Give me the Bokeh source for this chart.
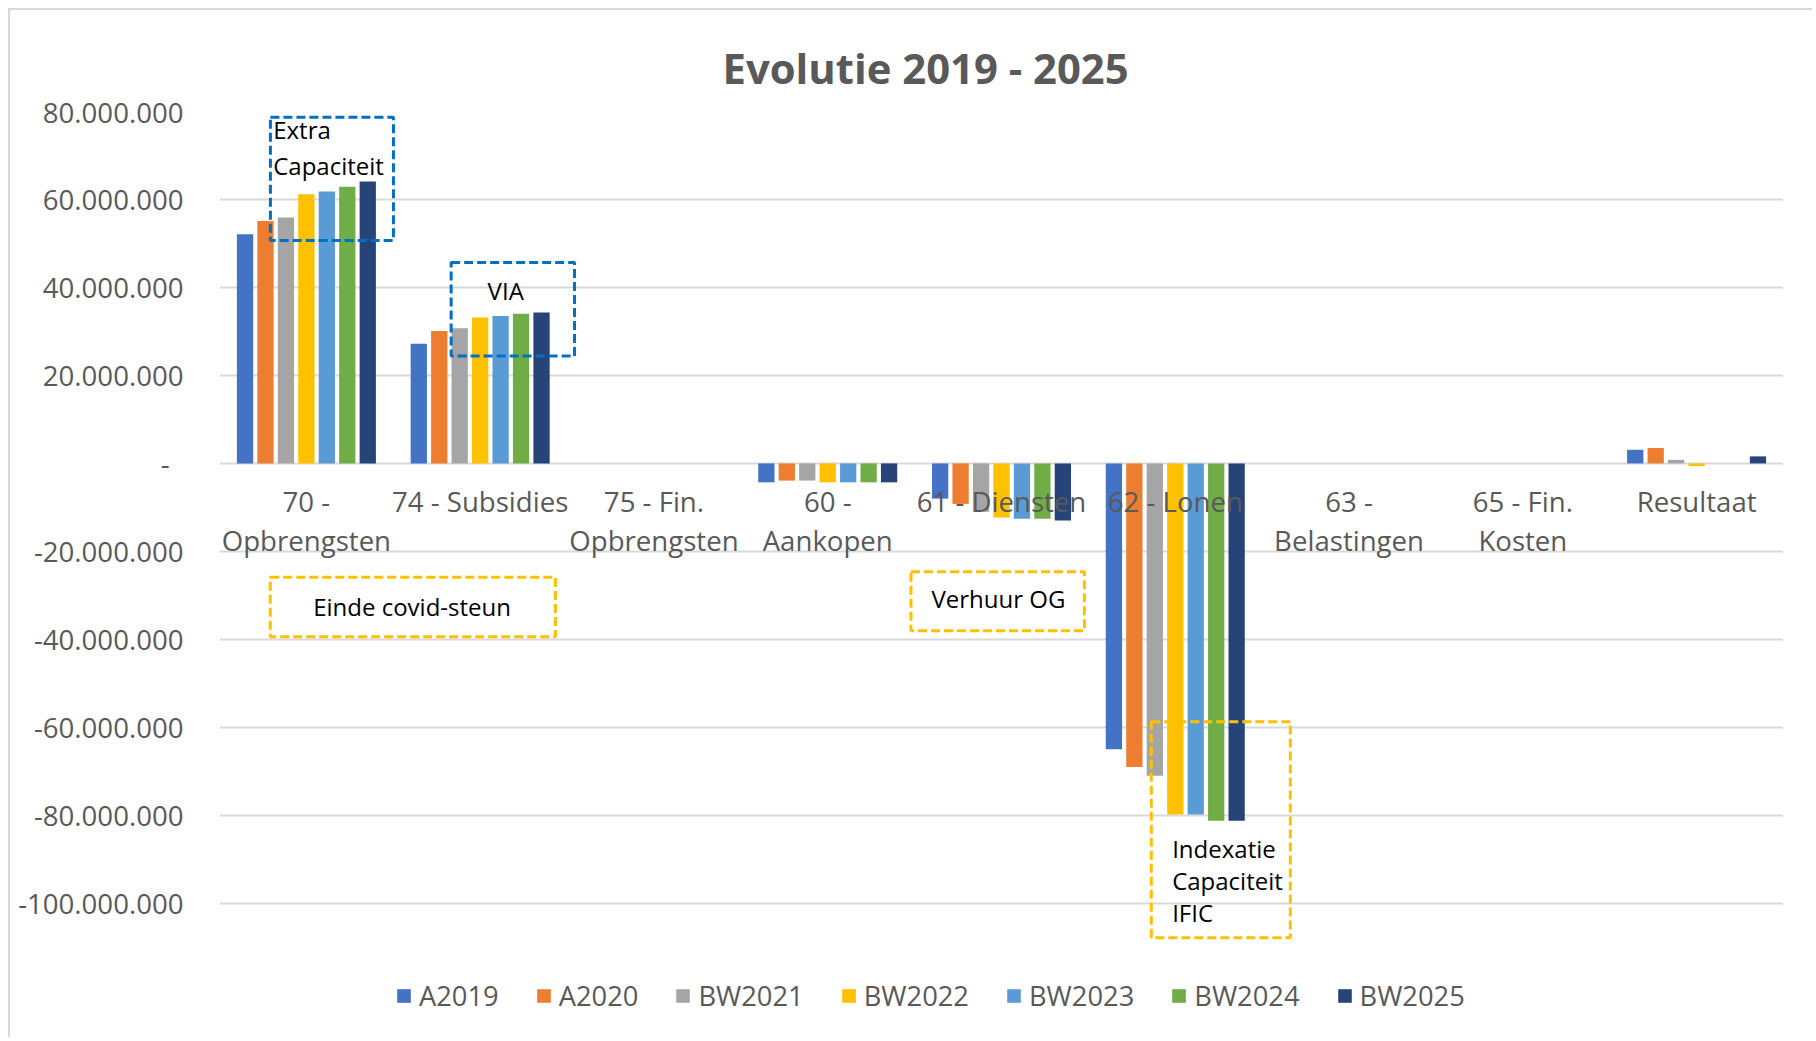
from bokeh.plotting import figure
from bokeh.models import (ColumnDataSource, FactorRange, Range1d, FixedTicker,
                          Legend, LegendItem, BoxAnnotation)
from bokeh.transform import dodge
from bokeh.core.properties import value
from bokeh.embed import file_html
from bokeh.resources import INLINE

# ---------------- data ----------------
categories = ["70 - Opbrengsten", "74 - Subsidies", "75 - Fin. Opbrengsten",
              "60 - Aankopen", "61 - Diensten", "62 - Lonen",
              "63 - Belastingen", "65 - Fin. Kosten", "Resultaat"]
category_labels = ["70 -\nOpbrengsten", "74 - Subsidies", "75 - Fin.\nOpbrengsten",
                   "60 -\nAankopen", "61 - Diensten", "62 - Lonen",
                   "63 -\nBelastingen", "65 - Fin.\nKosten", "Resultaat"]
series_names = ["A2019", "A2020", "BW2021", "BW2022", "BW2023", "BW2024", "BW2025"]

A2019 = [52.1e6, 27.2e6, 0, -4.3e6, -8.0e6, -65.0e6, 0, 0, 3.1e6]
A2020 = [55.1e6, 30.1e6, 0, -3.9e6, -9.2e6, -69.0e6, 0, 0, 3.5e6]
BW2021 = [55.9e6, 30.7e6, 0, -3.9e6, -11.0e6, -71.0e6, 0, 0, 0.8e6]
BW2022 = [61.2e6, 33.2e6, 0, -4.3e6, -12.3e6, -79.8e6, 0, 0, -0.6e6]
BW2023 = [61.8e6, 33.5e6, 0, -4.3e6, -12.6e6, -79.8e6, 0, 0, 0]
BW2024 = [62.9e6, 34.0e6, 0, -4.3e6, -12.6e6, -81.2e6, 0, 0, 0]
BW2025 = [64.1e6, 34.3e6, 0, -4.3e6, -13.0e6, -81.2e6, 0, 0, 1.6e6]
series_values = [A2019, A2020, BW2021, BW2022, BW2023, BW2024, BW2025]
colors = ["#4472C4", "#ED7D31", "#A5A5A5", "#FFC000", "#5B9BD5", "#70AD47", "#264478"]

y_ticks = [-100e6, -80e6, -60e6, -40e6, -20e6, 0, 20e6, 40e6, 60e6, 80e6]
y_tick_labels = ["-100.000.000", "-80.000.000", "-60.000.000", "-40.000.000",
                 "-20.000.000", "-\u2002", "20.000.000", "40.000.000",
                 "60.000.000", "80.000.000"]

title_text = "Evolutie 2019 - 2025"

# annotation callouts: text lines, colour, box (left, right, top, bottom), text anchor
blue = "#0070C0"
gold = "#FFC000"
callouts = [
    dict(lines=["Extra", "Capaciteit"], color=blue, box=(0.293, 1.001, 78.7e6, 50.7e6),
         x=0.309, ys=[76.0e6, 67.7e6], align="left"),
    dict(lines=["VIA"], color=blue, box=(1.333, 2.043, 45.7e6, 24.4e6),
         x=1.647, ys=[39.3e6], align="center"),
    dict(lines=["Einde covid-steun"], color=gold, box=(0.292, 1.933, -25.85e6, -39.4e6),
         x=1.108, ys=[-32.6e6], align="center"),
    dict(lines=["Verhuur OG"], color=gold, box=(3.979, 4.977, -24.6e6, -38.05e6),
         x=4.482, ys=[-30.8e6], align="center"),
    dict(lines=["Indexatie", "Capaciteit", "IFIC"], color=gold,
         box=(5.362, 6.162, -58.7e6, -107.8e6),
         x=5.482, ys=[-87.5e6, -94.8e6, -102.0e6], align="left"),
]

# ---------------- figure ----------------
FONT = "Open Sans"
GREY_TXT = "#595959"

p = figure(width=1804, height=1029,
           x_range=FactorRange(factors=categories),
           y_range=Range1d(-128e6, 80e6),
           output_backend="svg", toolbar_location=None,
           x_axis_location=None,
           min_border_left=209, min_border_right=31,
           min_border_top=101, min_border_bottom=13,
           title=title_text)
p.styles = {"margin-left": "8px", "margin-top": "8px",
            "border-left": "2px solid #d9d9d9", "border-top": "2px solid #d9d9d9"}
p.outline_line_color = None
p.background_fill_color = "white"
p.border_fill_color = "white"

p.title.text_font = FONT
p.title.text_font_size = "41.8px"
p.title.text_font_style = "bold"
p.title.text_color = GREY_TXT
p.title.align = "left"
p.title.offset = 503
p.title.standoff = 31

# y axis
p.yaxis.ticker = FixedTicker(ticks=y_ticks)
p.yaxis.major_label_overrides = {t: l for t, l in zip(y_ticks, y_tick_labels)}
p.yaxis.axis_line_color = None
p.yaxis.major_tick_line_color = None
p.yaxis.minor_tick_line_color = None
p.yaxis.major_tick_out = 0
p.yaxis.major_tick_in = 0
p.yaxis.major_label_standoff = 36
p.yaxis.major_label_text_font = FONT
p.yaxis.major_label_text_font_size = "27.6px"
p.yaxis.major_label_text_color = GREY_TXT

p.ygrid.ticker = FixedTicker(ticks=y_ticks)
p.ygrid.grid_line_color = "#D9D9D9"
p.ygrid.grid_line_width = 2
p.xgrid.grid_line_color = None

# bars
data = {"cat": categories}
for name, vals in zip(series_names, series_values):
    data[name] = vals
src = ColumnDataSource(data)

pitch = 0.1177
bar_w = 0.0937
items = []
for i, (name, col) in enumerate(zip(series_names, colors)):
    r = p.vbar(x=dodge("cat", (i - 3) * pitch, range=p.x_range), top=name, bottom=0,
               width=bar_w, source=src, fill_color=col, line_color=None)
    items.append(LegendItem(label=name, renderers=[r]))

# category labels (drawn next to the zero line, over the bars)
line_offsets = [37.7, 76.1]
lab_x, lab_t, lab_off = [], [], []
for cat, lab in zip(categories, category_labels):
    for k, line in enumerate(lab.split("\n")):
        lab_x.append(cat)
        lab_t.append(line)
        lab_off.append(line_offsets[k])
lab_src = ColumnDataSource(dict(x=lab_x, y=[0] * len(lab_x), t=lab_t, off=lab_off))
p.text(x="x", y="y", text="t", y_offset="off", source=lab_src,
       text_font=value(FONT), text_font_size=value("27.6px"), text_color=GREY_TXT,
       text_align="center", text_baseline="alphabetic")

# callouts
for c in callouts:
    l, r_, t, b = c["box"]
    p.add_layout(BoxAnnotation(left=l, right=r_, top=t, bottom=b,
                               fill_color=None, fill_alpha=0,
                               line_color=c["color"], line_alpha=1.0,
                               line_width=3, line_dash="9 4"))
    csrc = ColumnDataSource(dict(x=[c["x"]] * len(c["lines"]), y=c["ys"], t=c["lines"]))
    p.text(x="x", y="y", text="t", source=csrc, text_font=value(FONT),
           text_font_size=value("24px"), text_color="black",
           text_align=c["align"], text_baseline="middle")

legend = Legend(items=items, orientation="horizontal", location=(176, 12),
                padding=0, margin=0, spacing=36, label_standoff=7,
                glyph_width=17, glyph_height=17,
                label_text_font=FONT, label_text_font_size="27.3px",
                label_text_color=GREY_TXT,
                border_line_color=None, background_fill_alpha=0)
p.add_layout(legend)

open("out.html", "w").write(file_html(p, INLINE))
